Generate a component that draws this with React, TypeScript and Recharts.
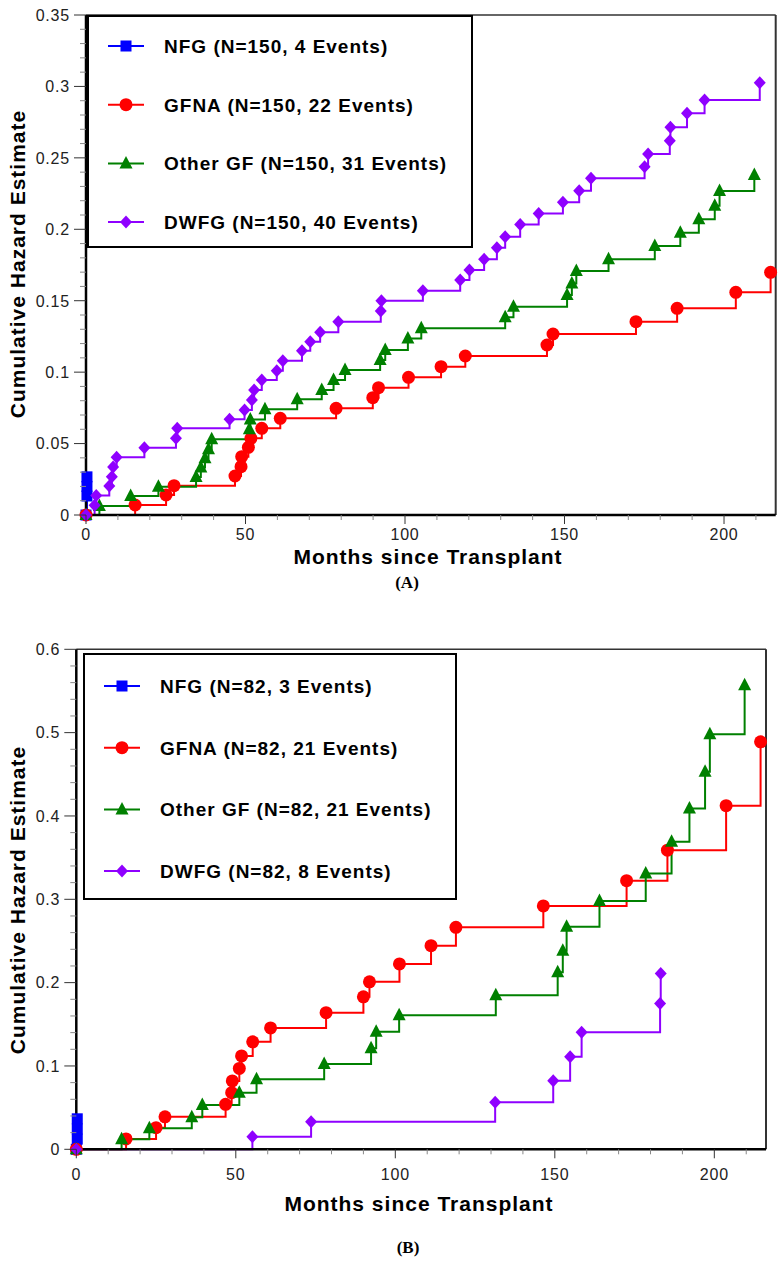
import React from "react";
import { LineChart, Line, XAxis, YAxis, ReferenceLine } from "recharts";

// ---- Panel A (N=150) : months since transplant / cumulative hazard ----
const nfgA_months = [0, 0.3, 0.3, 0.3];
const nfgA_hazard = [0, 0.0133, 0.02, 0.0267];

const gfnaA_months = [0, 15.4, 25.1, 27.6, 46.7, 48.6, 48.8, 50.9, 51.7, 55.1, 60.9, 78.4, 89.9, 91.7, 101.1, 111.3, 118.9, 144.5, 146.4, 172.4, 185.3, 203.7, 214.6];
const gfnaA_hazard = [0, 0.007, 0.014, 0.0205, 0.0273, 0.0338, 0.0408, 0.0474, 0.0537, 0.0607, 0.0677, 0.0747, 0.0821, 0.0891, 0.0964, 0.1038, 0.1113, 0.119, 0.1267, 0.1353, 0.1447, 0.1559, 0.1699];

const otherA_months = [0, 4.2, 14, 22.7, 34.5, 36, 37.3, 38.4, 39.4, 51.2, 51.5, 56.1, 66.2, 73.9, 77.6, 81.2, 92.2, 93.8, 100.9, 105.1, 131.4, 134, 150.8, 152.3, 153.7, 163.8, 178.3, 186.3, 192.1, 197.1, 198.6, 209.5];
const otherA_hazard = [0, 0.0063, 0.0133, 0.0198, 0.0266, 0.0333, 0.0398, 0.046, 0.053, 0.06, 0.0668, 0.074, 0.081, 0.0875, 0.0945, 0.1015, 0.1085, 0.1155, 0.1235, 0.1307, 0.1384, 0.1458, 0.154, 0.162, 0.1708, 0.179, 0.1883, 0.1976, 0.207, 0.2165, 0.2268, 0.238];

const dwfgA_months = [0, 2.7, 3.2, 7.3, 8.1, 8.5, 9.6, 18.3, 28.2, 28.6, 45, 49.7, 52, 52.7, 55.1, 59.8, 61.7, 67.7, 70.3, 73.4, 79.1, 92.4, 92.6, 105.6, 117.3, 120.2, 124.8, 128.8, 131.4, 136.1, 141.9, 149.5, 154.6, 158.3, 175.1, 176.2, 183, 183.2, 188.4, 193.9, 211.2];
const dwfgA_hazard = [0, 0.0068, 0.0137, 0.0203, 0.0268, 0.0336, 0.0404, 0.047, 0.0537, 0.0607, 0.067, 0.0735, 0.0805, 0.0875, 0.0945, 0.101, 0.108, 0.115, 0.1213, 0.128, 0.1353, 0.1428, 0.15, 0.157, 0.1645, 0.1715, 0.179, 0.187, 0.1948, 0.2033, 0.211, 0.219, 0.227, 0.2357, 0.2438, 0.2527, 0.262, 0.2714, 0.2812, 0.2905, 0.3026];

// ---- Panel B (N=82) ----
const nfgB_months = [0, 0.3, 0.3, 0.3];
const nfgB_hazard = [0, 0.0122, 0.0244, 0.0366];

const gfnaB_months = [0, 15.6, 25, 27.8, 46.8, 48.7, 48.9, 51.1, 51.8, 55.3, 60.9, 78.3, 90, 91.9, 101.3, 111.2, 119, 146.4, 172.5, 185.3, 203.7, 214.5];
const gfnaB_hazard = [0, 0.0124, 0.026, 0.039, 0.054, 0.068, 0.082, 0.097, 0.112, 0.129, 0.1456, 0.164, 0.183, 0.201, 0.2224, 0.2444, 0.2664, 0.292, 0.3224, 0.359, 0.4124, 0.489];

const otherB_months = [0, 14.2, 22.9, 36.2, 39.5, 51.1, 56.5, 77.7, 92.4, 94, 101.2, 131.5, 150.9, 152.5, 153.7, 164, 178.5, 186.6, 192.2, 197.1, 198.6, 209.5];
const otherB_hazard = [0, 0.012, 0.0252, 0.0384, 0.0532, 0.068, 0.084, 0.1024, 0.1212, 0.141, 0.161, 0.185, 0.2124, 0.2384, 0.267, 0.298, 0.331, 0.369, 0.409, 0.453, 0.498, 0.557];

const dwfgB_months = [0, 55.2, 73.6, 131.3, 149.5, 154.8, 158.4, 183, 183.2];
const dwfgB_hazard = [0, 0.0151, 0.033, 0.0564, 0.0823, 0.111, 0.1404, 0.175, 0.211];

// legend texts
const legendA = ["NFG (N=150, 4 Events)", "GFNA (N=150, 22 Events)", "Other GF (N=150, 31 Events)", "DWFG (N=150, 40 Events)"];
const legendB = ["NFG (N=82, 3 Events)", "GFNA (N=82, 21 Events)", "Other GF (N=82, 21 Events)", "DWFG (N=82, 8 Events)"];

// axis ticks
const xMajor = [0, 50, 100, 150, 200];
const yMajorA = [0, 0.05, 0.1, 0.15, 0.2, 0.25, 0.3, 0.35];
const yMajorB = [0, 0.1, 0.2, 0.3, 0.4, 0.5, 0.6];

const steps = (from: number, to: number, step: number) => {
  const out: number[] = [];
  for (let i = 0; from + i * step <= to + 1e-9; i++) out.push(+(from + i * step).toFixed(4));
  return out;
};
const xTicks = steps(0, 210, 10);
const yTicksA = steps(0, 0.35, 0.01);
const yTicksB = steps(0, 0.6, 0.02);

const zip = (ts: number[], vs: number[]) => ts.map((t, i) => ({ t, v: vs[i] }));

type Shape = "square" | "circle" | "triangle" | "diamond";
const GROUPS: { color: string; shape: Shape }[] = [
  { color: "#0000ff", shape: "square" },
  { color: "#ff0000", shape: "circle" },
  { color: "#008000", shape: "triangle" },
  { color: "#8f00ff", shape: "diamond" },
];

const SANS = '"Liberation Sans", Arial, Helvetica, sans-serif';

function Marker({ shape, cx, cy, color }: { shape: Shape; cx: number; cy: number; color: string }) {
  if (cx == null || cy == null) return null;
  switch (shape) {
    case "square":
      return <rect x={cx - 5.5} y={cy - 5.5} width={11} height={11} fill={color} />;
    case "circle":
      return <circle cx={cx} cy={cy} r={6.5} fill={color} />;
    case "triangle":
      return <polygon points={`${cx},${cy - 7.5} ${cx - 6.5},${cy + 5} ${cx + 6.5},${cy + 5}`} fill={color} />;
    default:
      return <polygon points={`${cx},${cy - 6.5} ${cx + 6},${cy} ${cx},${cy + 6.5} ${cx - 6},${cy}`} fill={color} />;
  }
}

const fmt = (v: number) => String(+v.toFixed(2));

function XTick({ x, y, payload, labelDy }: any) {
  const major = xMajor.includes(payload.value);
  return (
    <g>
      <line x1={x} x2={x} y1={y} y2={y + (major ? 9 : 5)} stroke={major ? "#333" : "#888"} strokeWidth={1} />
      {major && (
        <text x={x} y={y + labelDy + 5.8} textAnchor="middle" fontSize={16} fill="#222" fontFamily={SANS} letterSpacing={0.8}>
          {payload.value}
        </text>
      )}
    </g>
  );
}

function YTick({ x, y, payload, majors }: any) {
  const major = majors.some((m: number) => Math.abs(m - payload.value) < 1e-6);
  return (
    <g>
      <line x1={x - (major ? 12 : 6)} x2={x} y1={y} y2={y} stroke={major ? "#333" : "#888"} strokeWidth={1} />
      {major && (
        <text x={x - 16} y={y + 5.8} textAnchor="end" fontSize={16} fill="#222" fontFamily={SANS} letterSpacing={0.8}>
          {fmt(payload.value)}
        </text>
      )}
    </g>
  );
}

function LegendBox({ left, top, width, height, rowTop, rowGap, labels }: any) {
  return (
    <div style={{ position: "absolute", left, top, width, height, boxSizing: "border-box", border: "2px solid #000", background: "#fff" }}>
      <svg width={width} height={height} style={{ position: "absolute", left: -2, top: -2 }}>
        {labels.map((label: string, i: number) => {
          const y = rowTop + i * rowGap;
          const g = GROUPS[i];
          return (
            <g key={label}>
              <line x1={21} x2={57} y1={y} y2={y} stroke={g.color} strokeWidth={2} />
              <Marker shape={g.shape} cx={39} cy={y} color={g.color} />
              <text x={77} y={y + 6.8} fontSize={19} fontWeight="bold" fontFamily={SANS} letterSpacing={1} fill="#000">
                {label}
              </text>
            </g>
          );
        })}
      </svg>
    </div>
  );
}

function HazardPanel({ series, yTicks, yMajors, yMax, height, top, leftAxis, rightEdge, xLabelDy, xAxisHeight }: any) {
  return (
    <LineChart
      width={783}
      height={height}
      margin={{ top, right: 783 - rightEdge, left: 0, bottom: 0 }}
    >
      <XAxis
        dataKey="t"
        type="number"
        domain={[0, 216.2]}
        ticks={xTicks}
        interval={0}
        tickSize={0}
        tickMargin={0}
        height={xAxisHeight}
        axisLine={{ stroke: "#000", strokeWidth: 2.5 }}
        tick={(p: any) => <XTick {...p} labelDy={xLabelDy} />}
        allowDecimals
      />
      <YAxis
        type="number"
        domain={[0, yMax]}
        ticks={yTicks}
        interval={0}
        tickSize={0}
        tickMargin={0}
        width={leftAxis}
        axisLine={{ stroke: "#000", strokeWidth: 2.5 }}
        tick={(p: any) => <YTick {...p} majors={yMajors} />}
      />
      <ReferenceLine y={yMax} stroke="#333" strokeWidth={1.5} />
      <ReferenceLine x={216.2} stroke="#333" strokeWidth={2} />
      {series.map((data: { t: number; v: number }[], i: number) => (
        <Line
          key={i}
          data={data}
          dataKey="v"
          type="stepAfter"
          stroke={GROUPS[i].color}
          strokeWidth={2}
          isAnimationActive={false}
          activeDot={false}
          dot={(p: any) => <Marker key={p.index} shape={GROUPS[i].shape} cx={p.cx} cy={p.cy} color={GROUPS[i].color} />}
        />
      ))}
    </LineChart>
  );
}

const titleStyle: React.CSSProperties = {
  position: "absolute",
  fontFamily: SANS,
  fontWeight: "bold",
  fontSize: 21,
  letterSpacing: 1,
  whiteSpace: "nowrap",
  color: "#000",
  transform: "translate(-50%, -50%)",
};

const captionStyle: React.CSSProperties = {
  position: "absolute",
  fontFamily: '"Liberation Serif", "Times New Roman", serif',
  fontWeight: "bold",
  fontSize: 17,
  whiteSpace: "nowrap",
  color: "#000",
  transform: "translate(-50%, -50%)",
};

export default function App() {
  const seriesA = [
    zip(nfgA_months, nfgA_hazard),
    zip(gfnaA_months, gfnaA_hazard),
    zip(otherA_months, otherA_hazard),
    zip(dwfgA_months, dwfgA_hazard),
  ];
  const seriesB = [
    zip(nfgB_months, nfgB_hazard),
    zip(gfnaB_months, gfnaB_hazard),
    zip(otherB_months, otherB_hazard),
    zip(dwfgB_months, dwfgB_hazard),
  ];
  return (
    <div style={{ position: "absolute", left: 0, top: 0, width: 783, height: 1268, background: "#fff", fontFamily: SANS }}>
      {/* Panel A */}
      <div style={{ position: "absolute", left: 0, top: 0 }}>
        <HazardPanel
          series={seriesA}
          yTicks={yTicksA}
          yMajors={yMajorA}
          yMax={0.35}
          height={600}
          top={15}
          leftAxis={86}
          rightEdge={775.7}
          xLabelDy={19}
          xAxisHeight={85}
        />
      </div>
      <LegendBox left={87} top={15} width={386} height={233} rowTop={31} rowGap={58.7} labels={legendA} />
      <div style={{ ...titleStyle, left: 17.5, top: 264, transform: "translate(-50%, -50%) rotate(-90deg)" }}>
        Cumulative Hazard Estimate
      </div>
      <div style={{ ...titleStyle, left: 428, top: 557 }}>Months since Transplant</div>
      <div style={{ ...captionStyle, left: 407, top: 583 }}>(A)</div>

      {/* Panel B */}
      <div style={{ position: "absolute", left: 0, top: 620 }}>
        <HazardPanel
          series={seriesB}
          yTicks={yTicksB}
          yMajors={yMajorB}
          yMax={0.6}
          height={620}
          top={29.3}
          leftAxis={76.3}
          rightEdge={766}
          xLabelDy={25}
          xAxisHeight={90.7}
        />
      </div>
      <LegendBox left={83.3} top={653.3} width={374} height={246.7} rowTop={33} rowGap={61.7} labels={legendB} />
      <div style={{ ...titleStyle, left: 18, top: 900, transform: "translate(-50%, -50%) rotate(-90deg)" }}>
        Cumulative Hazard Estimate
      </div>
      <div style={{ ...titleStyle, left: 419, top: 1204 }}>Months since Transplant</div>
      <div style={{ ...captionStyle, left: 408, top: 1248 }}>(B)</div>
    </div>
  );
}
